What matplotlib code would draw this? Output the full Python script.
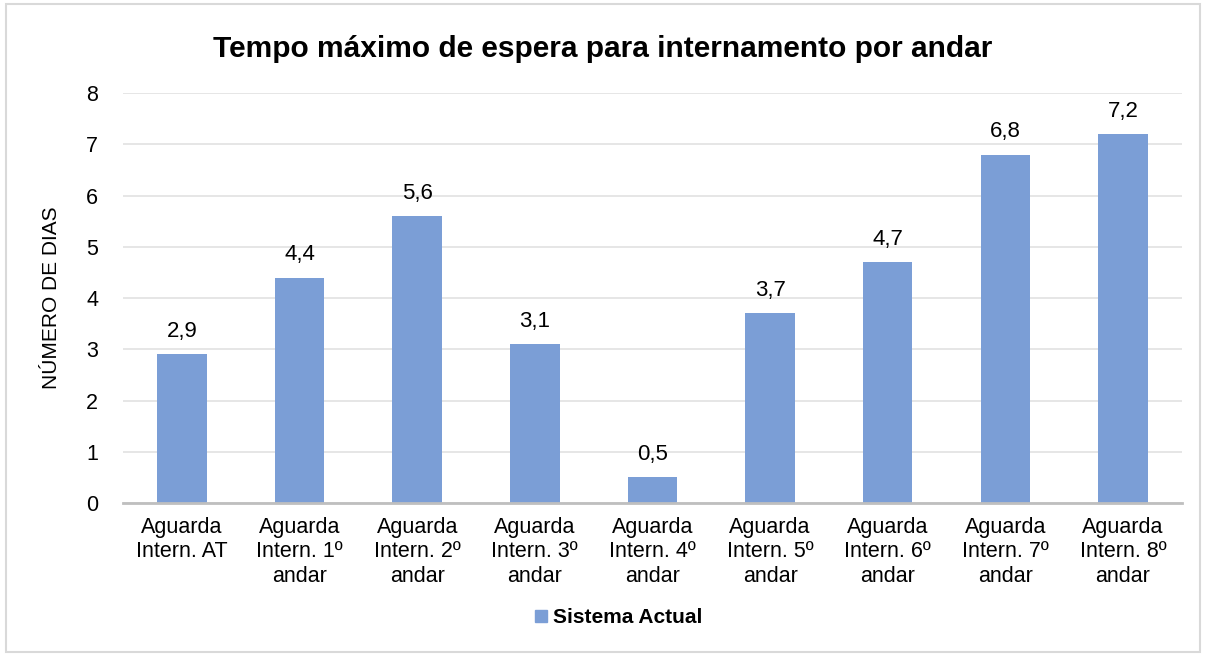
import matplotlib.pyplot as plt
from matplotlib.patches import Rectangle

plt.rcParams['font.family'] = ['Liberation Sans', 'DejaVu Sans']

categories = ['Aguarda\nIntern. AT', 'Aguarda\nIntern. 1º\nandar', 'Aguarda\nIntern. 2º\nandar',
              'Aguarda\nIntern. 3º\nandar', 'Aguarda\nIntern. 4º\nandar', 'Aguarda\nIntern. 5º\nandar',
              'Aguarda\nIntern. 6º\nandar', 'Aguarda\nIntern. 7º\nandar', 'Aguarda\nIntern. 8º\nandar']
values = [2.9, 4.4, 5.6, 3.1, 0.5, 3.7, 4.7, 6.8, 7.2]
series_name = 'Sistema Actual'
yticks = [0, 1, 2, 3, 4, 5, 6, 7, 8]

bar_color = '#7B9ED6'

fig = plt.figure(figsize=(12.06, 6.56), dpi=100)
ax = fig.add_axes([0.102, 0.2332, 0.878, 0.625])

x = range(len(categories))
bars = ax.bar(x, values, width=0.42, color=bar_color, zorder=2)

for xi, v in zip(x, values):
    ax.annotate(f'{v:.1f}'.replace('.', ','), (xi, v), xytext=(0, 9),
                textcoords='offset points', ha='center', va='bottom', fontsize=16)

ax.set_xlim(-0.5, len(categories) - 0.5)
ax.set_ylim(0, 8)
ax.set_yticks(yticks)
ax.yaxis.grid(True, color='#E4E4E4', linewidth=1.3, zorder=0)
ax.set_axisbelow(True)
for s in ['top', 'right', 'left']:
    ax.spines[s].set_visible(False)
ax.spines['bottom'].set_color('#BFBFBF')
ax.spines['bottom'].set_linewidth(2)
ax.tick_params(axis='y', length=0, pad=18, labelsize=15.5)
ax.tick_params(axis='x', length=0, pad=10, labelsize=15.5)
ax.set_xticks(list(x))
ax.set_xticklabels(categories, linespacing=1.22)
ax.set_ylabel('NÚMERO DE DIAS', fontsize=15, labelpad=18)

fig.text(0.5, 0.926, 'Tempo máximo de espera para internamento por andar',
         ha='center', va='center', fontsize=21.5, fontweight='bold')

handle = Rectangle((0, 0), 1, 1, color=bar_color)
fig.legend([handle], [series_name], loc='center', bbox_to_anchor=(0.513, 0.058),
           frameon=False, prop={'weight': 'bold', 'size': 15},
           handlelength=0.55, handleheight=0.55, handletextpad=0.3)

fig.add_artist(Rectangle((0.005, 0.006), 0.99, 0.988, transform=fig.transFigure,
                         fill=False, edgecolor='#D9D9D9', linewidth=1.5))

fig.savefig('out.png', dpi=100)
